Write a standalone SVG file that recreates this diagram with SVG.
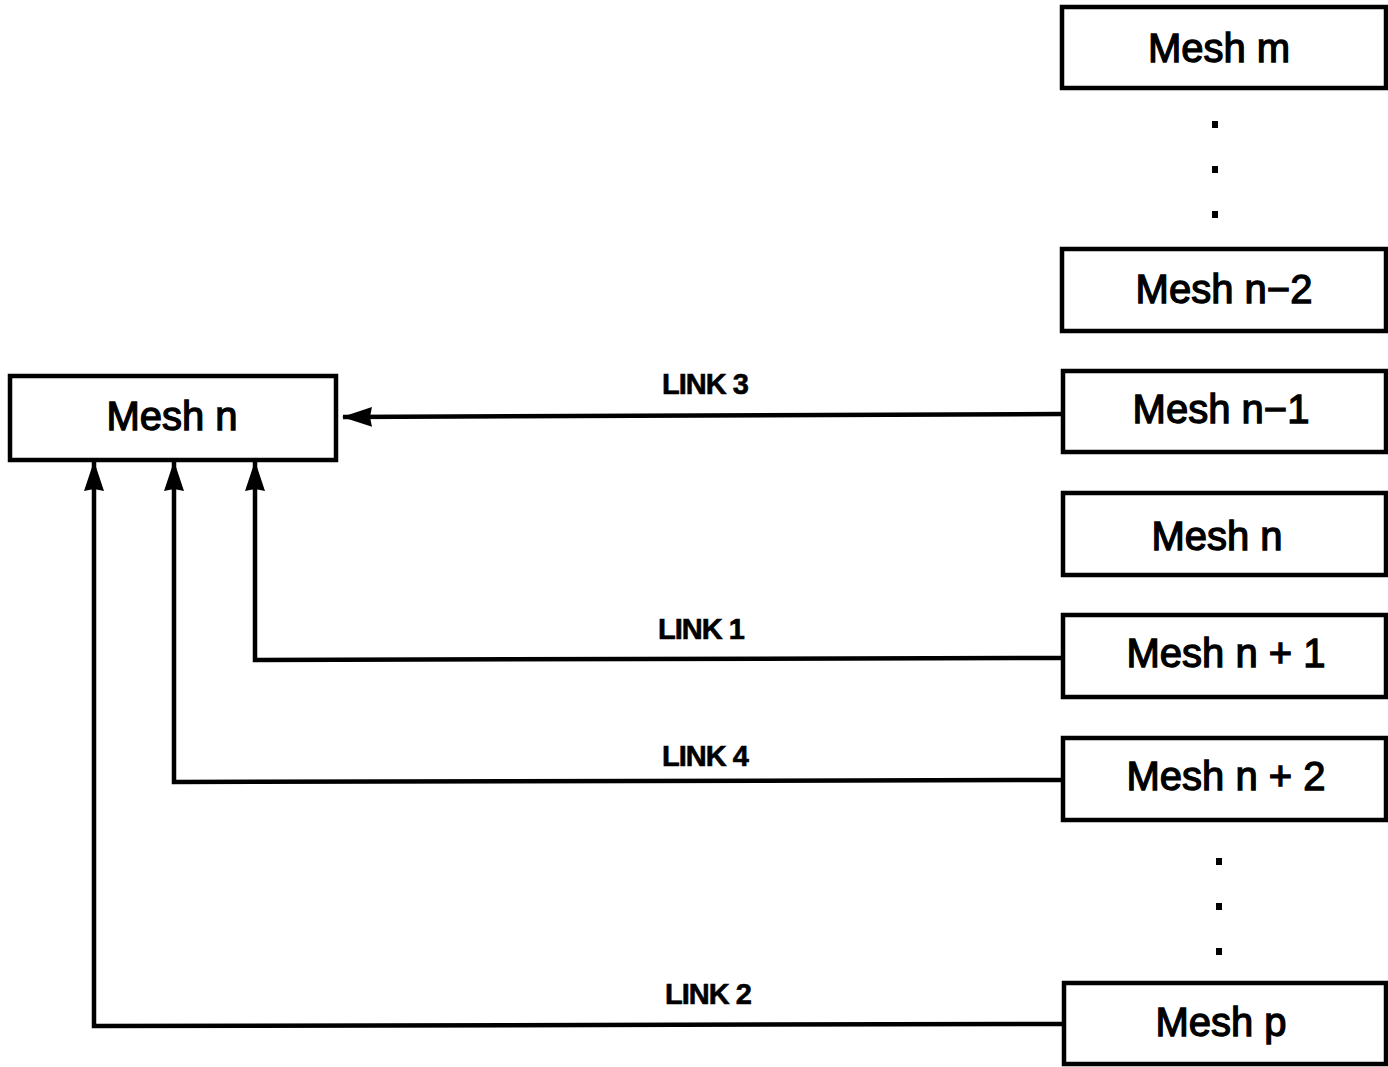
<svg xmlns="http://www.w3.org/2000/svg" width="1388" height="1067" viewBox="0 0 1388 1067">
<style>
.box{fill:#fff;stroke:#000;stroke-width:4.5}
.lbl{font-family:"Liberation Sans",Arial,sans-serif;font-size:40px;fill:#000;stroke:#000;stroke-width:1.3;text-anchor:middle}
.lnk{font-family:"Liberation Sans",Arial,sans-serif;font-size:29px;font-weight:bold;fill:#000;stroke:#000;stroke-width:0.6;letter-spacing:-1px;text-anchor:middle}
.wire{fill:none;stroke:#000;stroke-width:4.5;stroke-linejoin:miter}
.dot{fill:#000}
</style>
<defs>
<marker id="ah" viewBox="0 0 30 22" refX="29" refY="11" markerWidth="30" markerHeight="22" markerUnits="userSpaceOnUse" orient="auto">
<path d="M0,1 L30,11 L0,21 L2,11 Z" fill="#000"/>
</marker>
</defs>
<g id="node-left-mesh-n"><rect class="box" x="10" y="376" width="326" height="84"/><text class="lbl" x="172" y="430">Mesh n</text></g>
<g id="node-mesh-m"><rect class="box" x="1062" y="7" width="324" height="81"/><text class="lbl" x="1219" y="62">Mesh m</text></g>
<g id="node-mesh-n-2"><rect class="box" x="1062" y="249" width="324" height="82"/><text class="lbl" x="1224" y="303">Mesh n−2</text></g>
<g id="node-mesh-n-1"><rect class="box" x="1063" y="371" width="323" height="81"/><text class="lbl" x="1221" y="423">Mesh n−1</text></g>
<g id="node-mesh-n"><rect class="box" x="1063" y="493" width="323" height="82"/><text class="lbl" x="1217" y="550">Mesh n</text></g>
<g id="node-mesh-n+1"><rect class="box" x="1063" y="615" width="323" height="82"/><text class="lbl" x="1226" y="667">Mesh n + 1</text></g>
<g id="node-mesh-n+2"><rect class="box" x="1063" y="738" width="323" height="82"/><text class="lbl" x="1226" y="790">Mesh n + 2</text></g>
<g id="node-mesh-p"><rect class="box" x="1064" y="983" width="322" height="81"/><text class="lbl" x="1221" y="1036">Mesh p</text></g>
<g id="ellipsis">
<rect class="dot" x="1212" y="121" width="6" height="7"/>
<rect class="dot" x="1212" y="166" width="6" height="7"/>
<rect class="dot" x="1212" y="211" width="6" height="7"/>
<rect class="dot" x="1216" y="858" width="6" height="7"/>
<rect class="dot" x="1216" y="903" width="6" height="7"/>
<rect class="dot" x="1216" y="948" width="6" height="7"/>
</g>
<g id="connectors">
<path class="wire" d="M1062,414 L343,417" marker-end="url(#ah)"/>
<path class="wire" d="M1062,658 L255,660 L255,462" marker-end="url(#ah)"/>
<path class="wire" d="M1062,780 L174,782 L174,462" marker-end="url(#ah)"/>
<path class="wire" d="M1063,1024 L94,1026 L94,462" marker-end="url(#ah)"/>
<text class="lnk" x="705" y="394">LINK 3</text>
<text class="lnk" x="701" y="639">LINK 1</text>
<text class="lnk" x="705" y="766">LINK 4</text>
<text class="lnk" x="708" y="1004">LINK 2</text>
</g>
</svg>
